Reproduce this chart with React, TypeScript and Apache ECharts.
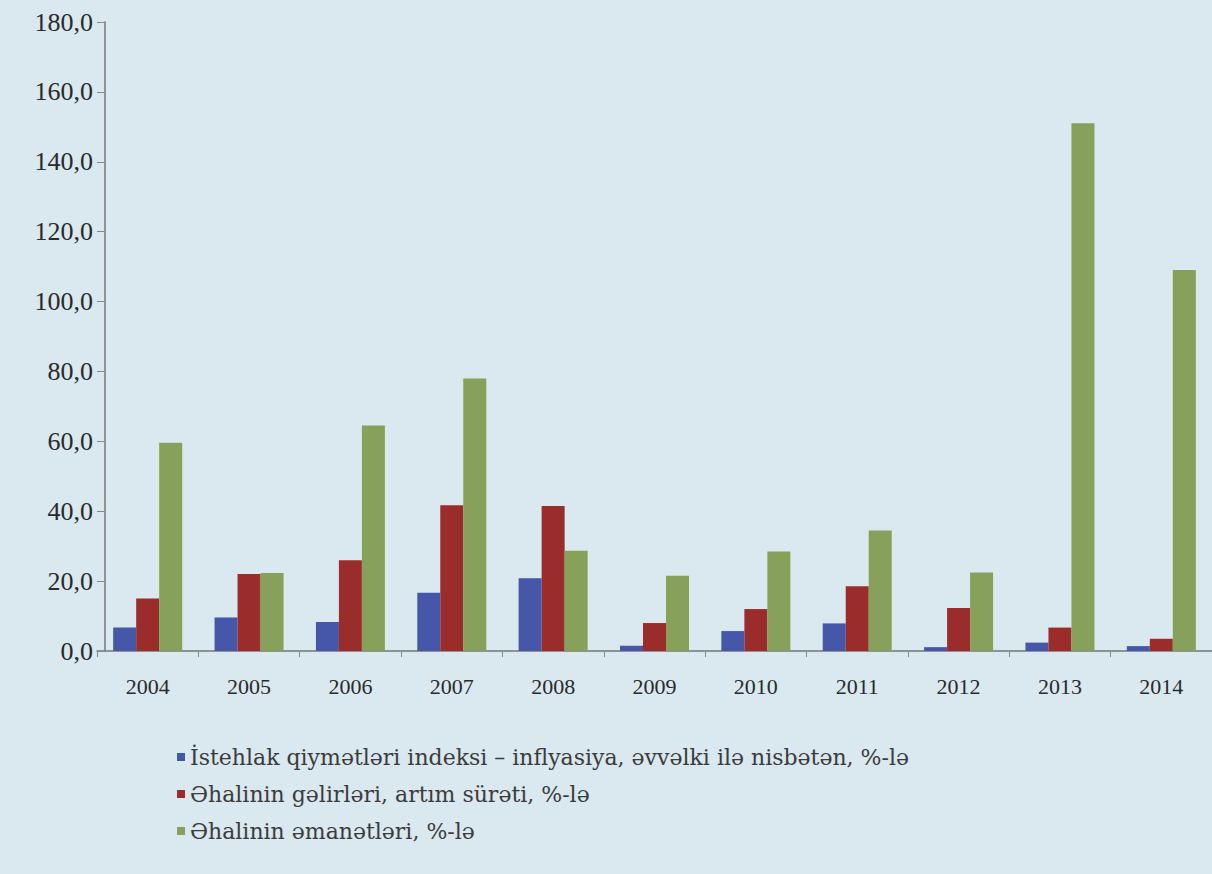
import React, { useEffect, useRef } from "react";
import * as echarts from "echarts";

const years = ["2004", "2005", "2006", "2007", "2008", "2009", "2010", "2011", "2012", "2013", "2014"];
const cpiInflation = [6.7, 9.6, 8.3, 16.7, 20.8, 1.5, 5.7, 7.9, 1.1, 2.4, 1.4];
const incomeGrowth = [15.0, 22.0, 26.0, 41.7, 41.5, 8.0, 12.0, 18.5, 12.3, 6.7, 3.5];
const savings = [59.6, 22.3, 64.5, 78.0, 28.7, 21.5, 28.5, 34.5, 22.5, 151.0, 109.0];
const seriesNames = [
  "İstehlak qiymətləri indeksi – inflyasiya, əvvəlki ilə nisbətən, %-lə",
  "Əhalinin gəlirləri, artım sürəti, %-lə",
  "Əhalinin əmanətləri, %-lə",
];
const colors = ["#4656a8", "#9a2c2c", "#87a05a"];

export default function App() {
  const ref = useRef<HTMLDivElement>(null);
  useEffect(() => {
    if (!ref.current) return;
    const chart = echarts.init(ref.current, undefined, { renderer: "svg" });
    const font = "Liberation Serif";
    const mk = (name: string, data: number[], color: string) => ({
      name,
      type: "bar",
      data,
      barWidth: 23,
      barGap: "0%",
      itemStyle: { color },
    });
    chart.setOption({
      animation: false,
      backgroundColor: "#dae8f0",
      textStyle: { fontFamily: font },
      legend: {
        orient: "vertical",
        left: 172,
        top: 741,
        itemWidth: 8,
        itemHeight: 8,
        itemGap: 15,
        icon: "rect",
        textStyle: { fontFamily: "DejaVu Serif", fontSize: 22, color: "#3c3c3c" },
        data: seriesNames,
      },
      grid: { left: 97, top: 22, height: 629, width: 1139 },
      xAxis: {
        type: "category",
        data: years,
        axisLine: { lineStyle: { color: "#777", width: 1.5 } },
        axisTick: { show: true, length: 6, lineStyle: { color: "#888" } },
        axisLabel: { fontFamily: font, fontSize: 22, color: "#2a2a2a", margin: 24 },
      },
      yAxis: {
        type: "value",
        min: 0,
        max: 180,
        interval: 20,
        offset: -8,
        splitLine: { show: false },
        axisLine: { show: true, lineStyle: { color: "#777", width: 1.5 } },
        axisTick: { show: true, length: 8, lineStyle: { color: "#888" } },
        axisLabel: {
          fontFamily: font,
          fontSize: 26,
          color: "#2a2a2a",
          margin: 12,
          formatter: (v: number) => v.toFixed(1).replace(".", ","),
        },
      },
      series: [
        mk(seriesNames[0], cpiInflation, colors[0]),
        mk(seriesNames[1], incomeGrowth, colors[1]),
        mk(seriesNames[2], savings, colors[2]),
      ],
    });
    return () => chart.dispose();
  }, []);
  return (
    <div
      ref={ref}
      style={{ position: "fixed", left: 0, top: 0, width: 1212, height: 874 }}
    />
  );
}
